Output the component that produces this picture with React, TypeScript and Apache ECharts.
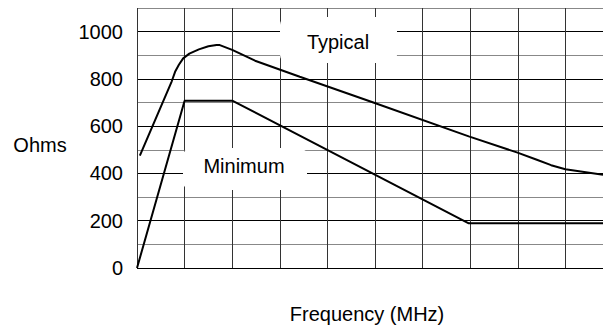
import React, { useEffect, useRef } from "react";
import * as echarts from "echarts";

const yTicks = [0, 200, 400, 600, 800, 1000];
const typical: [number, number][] = [
  [0.06, 475], [0.73, 790], [0.8, 830], [0.88, 860], [0.97, 887], [1.1, 907],
  [1.3, 925], [1.5, 938], [1.67, 943], [1.74, 943], [2.0, 923], [2.48, 877],
  [3.42, 809], [4.98, 699], [6.97, 557], [7.98, 489], [8.4, 458], [8.7, 435],
  [9.0, 418], [9.79, 394],
];
const minimum: [number, number][] = [
  [0, 0], [1.0, 708], [2.0, 708], [6.97, 189], [9.79, 189],
];
const labels = { typical: "Typical", minimum: "Minimum", yName: "Ohms", xName: "Frequency (MHz)" };

export default function App() {
  const ref = useRef<HTMLDivElement>(null);
  useEffect(() => {
    if (!ref.current) return;
    const chart = echarts.init(ref.current, undefined, { renderer: "svg" });
    const font = "Liberation Sans, Arial, sans-serif";
    chart.setOption({
      animation: false,
      grid: { left: 137, top: 8, width: 476, height: 260 },
      xAxis: {
        type: "value",
        min: 0,
        max: 10,
        interval: 1,
        axisLabel: { show: false },
        axisTick: { show: false },
        axisLine: { show: false },
        splitLine: { show: true, lineStyle: { color: "#333", width: 1 } },
      },
      yAxis: {
        type: "value",
        min: 0,
        max: 1100,
        interval: 100,
        axisTick: { show: false },
        axisLine: { show: false },
        axisLabel: {
          margin: 14,
          fontSize: 20,
          color: "#000",
          fontFamily: font,
          formatter: (v: number) => (yTicks.includes(v) ? String(v) : ""),
        },
        splitLine: { show: true, lineStyle: { color: ["#000", "#888"], width: 1 } },
      },
      graphic: [
        {
          type: "rect",
          z: 100,
          shape: { x: 280, y: 17, width: 117, height: 46, r: 8 },
          style: { fill: "#fff" },
        },
        {
          type: "text",
          z: 101,
          x: 338,
          y: 42,
          style: { text: labels.typical, fontSize: 20, fontFamily: font, fill: "#000", align: "center", verticalAlign: "middle" },
        },
        {
          type: "rect",
          z: 100,
          shape: { x: 183, y: 148, width: 124, height: 42, r: 8 },
          style: { fill: "#fff" },
        },
        {
          type: "text",
          z: 101,
          x: 244,
          y: 166,
          style: { text: labels.minimum, fontSize: 20, fontFamily: font, fill: "#000", align: "center", verticalAlign: "middle" },
        },
        {
          type: "text",
          z: 101,
          x: 40,
          y: 145,
          style: { text: labels.yName, fontSize: 20, fontFamily: font, fill: "#000", align: "center", verticalAlign: "middle" },
        },
        {
          type: "text",
          z: 101,
          x: 367,
          y: 314,
          style: { text: labels.xName, fontSize: 20, fontFamily: font, fill: "#000", align: "center", verticalAlign: "middle" },
        },
      ],
      series: [
        {
          type: "line",
          data: typical,
          showSymbol: false,
          lineStyle: { color: "#000", width: 2 },
          z: 10,
        },
        {
          type: "line",
          data: minimum,
          showSymbol: false,
          lineStyle: { color: "#000", width: 2 },
          z: 10,
        },
      ],
    });
    return () => chart.dispose();
  }, []);
  return (
    <div
      style={{ position: "absolute", left: 0, top: 0, width: 603, height: 328, overflow: "hidden", background: "#fff" }}
    >
      <div ref={ref} style={{ width: 620, height: 328 }} />
    </div>
  );
}
